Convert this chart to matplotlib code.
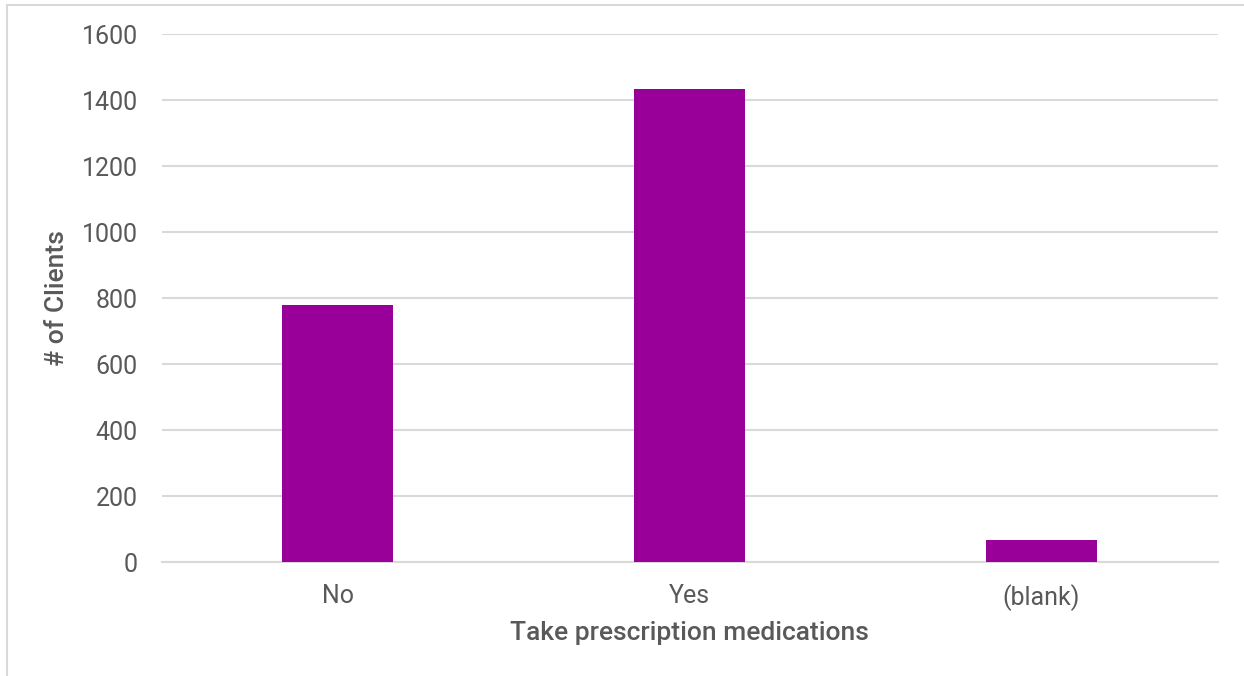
import matplotlib
matplotlib.use("Agg")
import matplotlib.pyplot as plt
from matplotlib.patches import Rectangle

categories = ["No", "Yes", "(blank)"]
clients = [779, 1432, 67]
y_ticks = [0, 200, 400, 600, 800, 1000, 1200, 1400, 1600]

BAR_COLOR = "#990099"
TEXT_COLOR = "#595959"
GRID_COLOR = "#d9d9d9"

plt.rcParams["font.family"] = ["Roboto", "DejaVu Sans"]

fig = plt.figure(figsize=(12.44, 6.76), dpi=100)
fig.patch.set_facecolor("white")

# light chart-area frame
fig.patches.append(Rectangle((7 / 1244, -0.05), 1.1, 1 - 5 / 676 + 0.05,
                             transform=fig.transFigure, fill=False,
                             edgecolor=GRID_COLOR, linewidth=1.5))

ax = fig.add_axes([161.5 / 1244, 1 - 562 / 676, 1056 / 1244, 528 / 676])
x = list(range(len(categories)))
ax.bar(x, clients, width=0.315, color=BAR_COLOR, zorder=3)

ax.set_xlim(-0.5, len(categories) - 0.5)
ax.set_ylim(0, 1600)
ax.set_yticks(y_ticks)
ax.set_yticklabels([str(t) for t in y_ticks])
ax.set_xticks(x)
ax.set_xticklabels(categories)

ax.grid(axis="y", color=GRID_COLOR, linewidth=1.5, zorder=0)
ax.set_axisbelow(True)
for side in ["top", "right", "left"]:
    ax.spines[side].set_visible(False)
ax.spines["bottom"].set_color(GRID_COLOR)
ax.spines["bottom"].set_linewidth(1.5)

ax.tick_params(axis="both", length=0, labelsize=18, colors=TEXT_COLOR)
ax.tick_params(axis="y", pad=17)
ax.tick_params(axis="x", pad=16)

ax.set_xlabel("Take prescription medications", fontsize=19, color=TEXT_COLOR,
              fontweight="medium", labelpad=7)
ax.set_ylabel("# of Clients", fontsize=19, color=TEXT_COLOR, fontweight="medium", labelpad=9)

fig.savefig("out.png", dpi=100, facecolor="white")
